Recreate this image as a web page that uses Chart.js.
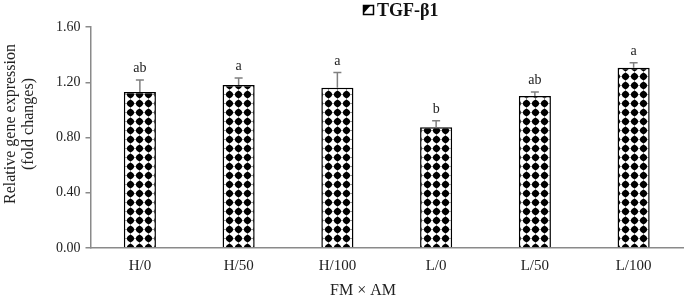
<!DOCTYPE html>
<html>
<head>
<meta charset="utf-8">
<script src="https://cdn.jsdelivr.net/npm/chart.js@4/dist/chart.umd.min.js"></script>
<style>
  html, body { margin: 0; padding: 0; background: #fff; }
  #wrap { width: 685px; height: 298px; position: relative; }
</style>
</head>
<body>
<div id="wrap"><canvas id="c" width="685" height="298"></canvas></div>
<script>
const categories = ['H/0', 'H/50', 'H/100', 'L/0', 'L/50', 'L/100'];
const means = [1.13, 1.18, 1.16, 0.875, 1.10, 1.305];
const errors = [0.087, 0.05, 0.11, 0.046, 0.03, 0.037];
const letters = ['ab', 'a', 'a', 'b', 'ab', 'a'];
const yTicks = [0, 0.4, 0.8, 1.2, 1.6];
const seriesName = 'TGF-β1';
const xTitle = 'FM × AM';
const yTitle = ['Relative gene expression', '(fold changes)'];

const SERIF = '"Liberation Serif", "Times New Roman", serif';

function makePattern() {
  const p = document.createElement('canvas');
  p.width = 9; p.height = 9;
  const g = p.getContext('2d');
  g.fillStyle = '#fff';
  g.fillRect(0, 0, 9, 9);
  g.fillStyle = '#000';
  g.beginPath();
  g.moveTo(4.5, 0.3); g.lineTo(8.7, 4.5); g.lineTo(4.5, 8.7); g.lineTo(0.3, 4.5); g.closePath();
  g.fill();
  g.beginPath();
  g.arc(4.5, 4.5, 3.3, 0, Math.PI * 2);
  g.fill();
  return document.getElementById('c').getContext('2d').createPattern(p, 'repeat');
}
const pattern = makePattern();

const errorPlugin = {
  id: 'errorPlugin',
  afterDatasetsDraw(chart) {
    const ctx = chart.ctx;
    const meta = chart.getDatasetMeta(0);
    const y = chart.scales.y;
    ctx.save();
    meta.data.forEach((bar, i) => {
      const x = bar.x;
      const top = y.getPixelForValue(means[i]);
      const eTop = y.getPixelForValue(means[i] + errors[i]);
      ctx.strokeStyle = '#808080';
      ctx.lineWidth = 1.5;
      ctx.beginPath();
      ctx.moveTo(x, top);
      ctx.lineTo(x, eTop);
      ctx.moveTo(x - 4, eTop);
      ctx.lineTo(x + 4, eTop);
      ctx.stroke();
      ctx.fillStyle = '#222';
      ctx.font = '14px ' + SERIF;
      ctx.textAlign = 'center';
      ctx.textBaseline = 'alphabetic';
      ctx.fillText(letters[i], x, eTop - 8);
    });
    ctx.restore();
  }
};

const textPlugin = {
  id: 'textPlugin',
  afterDraw(chart) {
    const ctx = chart.ctx;
    ctx.save();
    // legend icon
    ctx.fillStyle = '#fff';
    ctx.fillRect(363, 5, 11, 10);
    ctx.fillStyle = '#000';
    ctx.beginPath();
    ctx.moveTo(363, 5); ctx.lineTo(371, 5); ctx.lineTo(363, 14); ctx.closePath();
    ctx.fill();
    ctx.strokeStyle = '#000';
    ctx.lineWidth = 1.5;
    ctx.strokeRect(363.5, 5.5, 10, 9);
    ctx.fillStyle = '#111';
    ctx.font = 'bold 18px ' + SERIF;
    ctx.textAlign = 'left';
    ctx.textBaseline = 'alphabetic';
    ctx.fillText(seriesName, 377, 16);
    // x title
    ctx.font = '16px ' + SERIF;
    ctx.textAlign = 'center';
    ctx.textBaseline = 'middle';
    ctx.fillStyle = '#222';
    ctx.fillText(xTitle, 363, 291);
    // y title
    ctx.translate(0, 124);
    ctx.rotate(-Math.PI / 2);
    ctx.fillText(yTitle[0], 0, 11);
    ctx.fillText(yTitle[1], 0, 29);
    ctx.restore();
  }
};

new Chart(document.getElementById('c'), {
  type: 'bar',
  data: {
    labels: categories,
    datasets: [{
      label: seriesName,
      data: means,
      backgroundColor: pattern,
      borderColor: '#000',
      borderWidth: 1.5,
      borderSkipped: 'bottom',
      barPercentage: 0.325,
      categoryPercentage: 1
    }]
  },
  options: {
    responsive: false,
    animation: false,
    events: [],
    layout: { padding: { left: 0, right: 2, top: 27, bottom: 0 } },
    plugins: { legend: { display: false }, tooltip: { enabled: false } },
    scales: {
      x: {
        grid: { display: true, drawOnChartArea: false, drawTicks: false, color: '#8a8a8a' },
        border: { display: true, color: '#8a8a8a', width: 1.5 },
        ticks: { color: '#222', font: { family: SERIF, size: 15 }, padding: 9, maxRotation: 0 },
        afterFit(s) { s.height = 50; }
      },
      y: {
        min: 0, max: 1.6,
        afterBuildTicks(s) { s.ticks = yTicks.map(v => ({ value: v })); },
        grid: { display: true, drawOnChartArea: false, drawTicks: true, tickLength: 5, color: '#8a8a8a', lineWidth: 1.5 },
        border: { display: true, color: '#8a8a8a', width: 1.5 },
        ticks: { color: '#222', font: { family: SERIF, size: 14 }, padding: 5, callback: v => Number(v).toFixed(2) },
        afterFit(s) { s.width = 90.5; }
      }
    }
  },
  plugins: [errorPlugin, textPlugin]
});
</script>
</body>
</html>
